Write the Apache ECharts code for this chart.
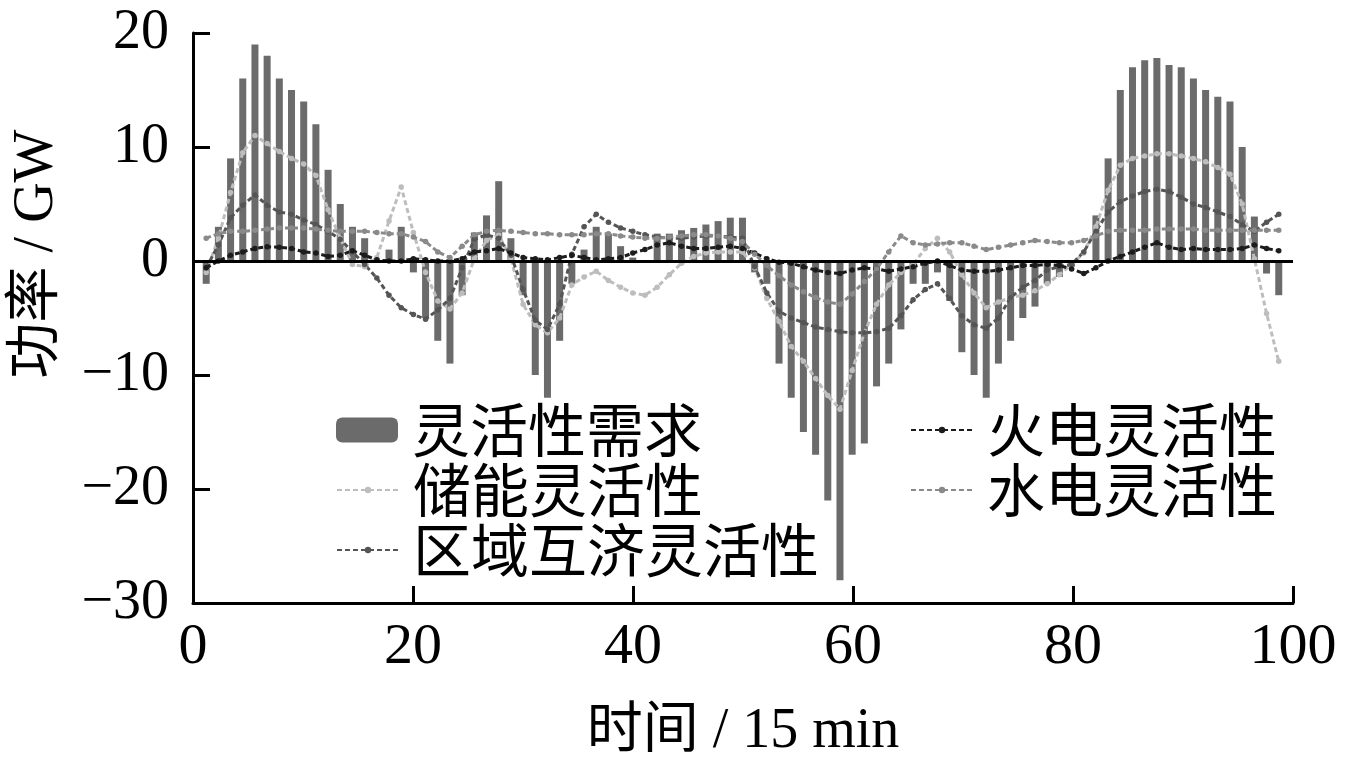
<!DOCTYPE html>
<html>
<head>
<meta charset="utf-8">
<script src="https://cdn.jsdelivr.net/npm/echarts@6/dist/echarts.min.js"></script>
<style>
html,body{margin:0;padding:0;background:#fff;}
#chart{width:1346px;height:767px;}
</style>
</head>
<body>
<div id="chart"></div>
<script>
// ---- data ----
const demand = [-2,3,9,16,19,18,16,15,14,12,
  8,5,3,2,0,1,3,-1,-5,-7,
  -9,-3,2.5,4,7,2,-3,-10,-12,-7,
  -2,1,3,2.4,1.3,0.3,0,2.4,2.4,2.7,
  2.9,3.2,3.5,3.8,3.8,-1,-2,-9,-12,-15,
  -17,-21,-28,-17,-16,-11,-9,-6,-2,-2,
  -1,-3.5,-8,-10,-12,-9,-7,-5,-4,-2,
  -1.4,-0.5,0,4,9,15,17,17.6,17.8,17.2,
  17,16,15,14.4,14,10,3.9,-1.1,-3];
const storage = [-1,2,6,9.5,11,10.3,9.6,9.0,8.5,7.5,
  4.5,2,-0.3,-0.5,0.3,3.5,6.5,2.5,-1,-3.5,
  -4.2,-2.8,0.2,1.8,2.3,0.2,-3.8,-5.6,-6.3,-5,
  -2.1,-1.4,-0.9,-1.7,-2.3,-2.8,-3.0,-2.3,-1.2,-0.2,
  0.4,0.7,0.8,0.8,0.8,-0.6,-3.3,-5.3,-7.5,-8.8,
  -10.3,-11.8,-13,-9.6,-6.3,-3.8,-2.1,-1.0,-0.3,1.1,
  2.0,0.8,-1.2,-2.8,-4.1,-3.6,-3.2,-3.0,-2.6,-2.0,
  -1.2,-0.3,0.7,3.0,6.2,8.4,9.0,9.2,9.4,9.4,
  9.2,9.0,8.7,8.2,7.6,5.0,0.2,-4.6,-8.8];
const regional = [-0.6,1.4,3.8,4.9,5.8,4.9,4.3,4.1,3.6,3.2,
  2.6,1.9,0.8,-0.3,-1.5,-3.0,-4.1,-4.7,-5.1,-4.3,
  -3.3,-0.6,1.9,2.3,2.0,0.5,-2.5,-5.2,-6.0,-3.8,
  0.6,3.0,4.1,3.4,2.9,2.6,2.3,2.1,2.0,2.0,
  2.1,2.2,2.2,2.1,2.0,-0.5,-2.8,-4.4,-5.0,-5.4,
  -5.8,-6.0,-6.2,-6.3,-6.3,-6.2,-5.9,-4.8,-3.4,-2.5,
  -2.0,-3.3,-4.8,-5.6,-5.9,-5.0,-3.2,-2.3,-1.7,-0.8,
  -0.5,-0.3,0.8,2.6,4.3,5.2,5.7,6.1,6.3,6.1,
  5.6,5.0,4.7,4.3,3.9,3.2,2.6,3.4,4.1];
const thermal = [-0.6,0,0.5,0.8,1.1,1.25,1.2,1.1,0.8,0.7,
  0.4,0.5,0.9,0.5,0.1,0,0,0.2,0.1,0,
  0,0.2,0.8,0.9,1.1,0.7,0.3,0.2,0.1,0.3,
  0.5,0.3,0.1,0.2,0.3,0.7,1.0,1.4,1.6,1.3,
  1.1,1.1,1.2,1.3,1.1,0.7,0.2,-0.1,-0.2,-0.5,
  -0.8,-1.0,-1.1,-0.8,-0.6,-0.7,-0.9,-0.7,-0.5,-0.2,
  0,-0.4,-0.8,-0.9,-0.9,-0.8,-0.6,-0.4,-0.4,-0.3,
  -0.4,-0.7,-1.1,-0.6,0,0.4,0.8,1.2,1.6,1.2,
  1.0,1.1,1.0,1.0,1.0,1.1,1.4,1.1,0.9];
const hydro = [2.0,2.4,2.6,2.6,2.7,2.8,2.9,2.9,2.9,2.8,
  2.7,2.6,2.6,2.6,2.5,2.4,2.4,2.1,1.7,0.8,
  0.3,1.3,2.3,2.6,2.7,2.6,2.5,2.4,2.4,2.3,
  2.3,2.3,2.4,2.4,2.2,2.1,2.0,2.0,2.1,2.2,
  2.3,2.3,2.2,2.0,1.7,0.6,-0.4,-1.3,-2.1,-2.7,
  -3.2,-3.6,-3.8,-2.9,-1.8,-0.7,0.8,2.2,1.6,1.4,
  1.5,1.6,1.6,1.3,1.0,1.2,1.4,1.6,1.8,1.7,
  1.6,1.6,1.8,2.2,2.6,2.7,2.7,2.7,2.8,2.8,
  2.8,2.8,2.7,2.7,2.7,2.7,2.7,2.7,2.7];
const timeStart = 1.2, timeStep = 1.108;   // time index (15 min units)
const times = demand.map((_, i) => +(timeStart + i * timeStep).toFixed(3));
const xTicks = [0, 20, 40, 60, 80, 100];
const yTicks = [-30, -20, -10, 0, 10, 20];
const names = ['灵活性需求', '储能灵活性', '区域互济灵活性', '火电灵活性', '水电灵活性'];

const pair = arr => arr.map((v, i) => [times[i], v]);
const serif = 'Liberation Serif, "Noto Sans CJK SC", serif';

function lineSeries(name, arr, color) {
  return {
    name, type: 'line', data: pair(arr),
    symbol: 'circle', symbolSize: 5.5, showSymbol: true,
    itemStyle: { color },
    lineStyle: { color, width: 3, type: [5, 3] },
    z: 3
  };
}

const legendText = { fontSize: 58, lineHeight: 60, color: '#000', fontFamily: '"Noto Sans CJK SC"', padding: [0, 0, 0, 9] };
function legendBlock(data, left, top, itemHeight) {
  return { data, orient: 'vertical', left, top, itemGap: 0, itemWidth: 62, itemHeight, textStyle: legendText };
}

const chart = echarts.init(document.getElementById('chart'), null, { renderer: 'canvas' });
chart.setOption({
  animation: false,
  backgroundColor: '#fff',
  grid: { left: 193, right: 53, top: 33, bottom: 164, containLabel: false, outerBoundsMode: 'none' },
  xAxis: {
    type: 'value', min: xTicks[0], max: xTicks[xTicks.length - 1], interval: 20,
    name: '时间 / 15 min', nameLocation: 'middle', nameGap: 101,
    nameTextStyle: { fontSize: 56, color: '#000', fontFamily: serif },
    axisLine: { show: true, onZero: false, lineStyle: { color: '#000', width: 3 } },
    axisTick: { show: true, inside: true, length: 17, lineStyle: { color: '#000', width: 3 } },
    axisLabel: { fontSize: 58, color: '#000', fontFamily: serif, margin: 16 },
    splitLine: { show: false }
  },
  yAxis: {
    type: 'value', min: yTicks[0], max: yTicks[yTicks.length - 1], interval: 10,
    name: '功率 / GW', nameLocation: 'middle', nameGap: 128, nameRotate: 90,
    nameTextStyle: { fontSize: 56, color: '#000', fontFamily: serif, padding: [0, 0, 0, 128] },
    axisLine: { show: true, onZero: false, lineStyle: { color: '#000', width: 3 } },
    axisTick: { show: true, inside: true, length: 17, lineStyle: { color: '#000', width: 3 } },
    axisLabel: { fontSize: 56, color: '#000', fontFamily: serif, margin: 24,
      formatter: v => String(v).replace('-', '\u2212') },
    splitLine: { show: false }
  },
  legend: [
    legendBlock([names[0]], 331, 395, 25),
    legendBlock([names[1], names[2]], 331, 455, 8),
    legendBlock([names[3], names[4]], 905, 395, 8)
  ],
  series: [
    {
      name: names[0], type: 'bar', data: pair(demand), barWidth: 7,
      itemStyle: { color: '#6b6b6b' }, z: 2,
      markLine: {
        silent: true, symbol: 'none', label: { show: false },
        lineStyle: { color: '#000', width: 3, type: 'solid' },
        data: [{ yAxis: 0 }]
      }
    },
    lineSeries(names[1], storage, '#bdbdbd'),
    lineSeries(names[2], regional, '#555555'),
    lineSeries(names[3], thermal, '#1c1c1c'),
    lineSeries(names[4], hydro, '#8a8a8a')
  ]
});
</script>
</body>
</html>
